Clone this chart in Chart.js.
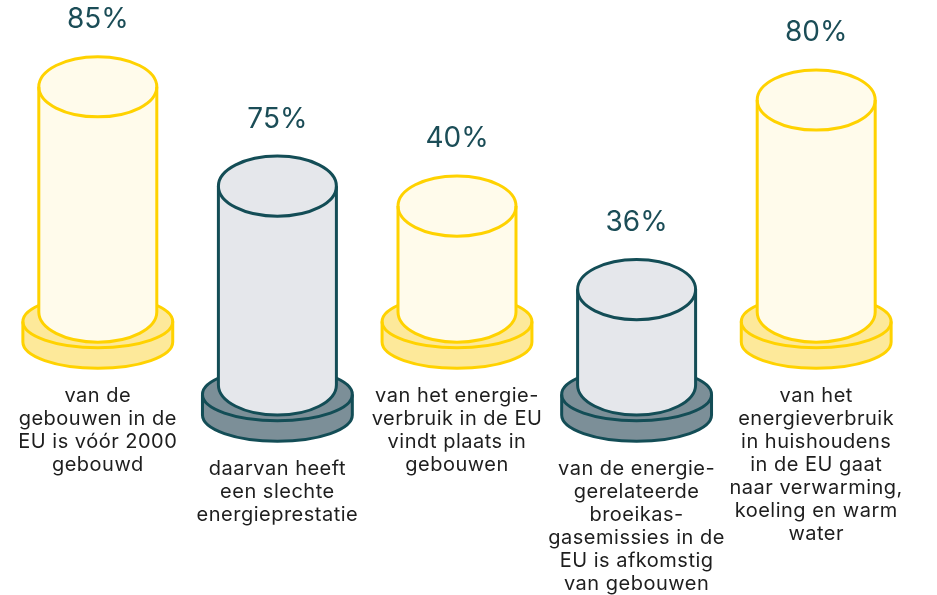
<!DOCTYPE html>
<html>
<head>
<meta charset="utf-8">
<script src="https://cdn.jsdelivr.net/npm/chart.js@4.4.1/dist/chart.umd.min.js"></script>
<style>
html, body { margin: 0; padding: 0; background: #fff; }
#wrap { width: 937px; height: 595px; position: relative; }
</style>
</head>
<body>
<div id="wrap"><canvas id="myChart"></canvas></div>
<script>
const ctx = document.getElementById('myChart').getContext('2d');

/*** Data ***/
const captions = [
    ['van de', 'gebouwen in de', 'EU is vóór 2000', 'gebouwd'],
    ['daarvan heeft', 'een slechte', 'energieprestatie'],
    ['van het energie-', 'verbruik in de EU', 'vindt plaats in', 'gebouwen'],
    ['van de energie-', 'gerelateerde', 'broeikas-', 'gasemissies in de', 'EU is afkomstig', 'van gebouwen'],
    ['van het', 'energieverbruik', 'in huishoudens', 'in de EU gaat', 'naar verwarming,', 'koeling en warm', 'water']
];
const yellowShares = [85, null, 40, null, 80];
const greyShares = [null, 75, null, 36, null];
/*************/

const looks = {
    yellow: { stroke: '#FFD200', body: '#FFFBEB', disk: '#FDE99A' },
    grey:   { stroke: '#134D56', body: '#E5E7EB', disk: '#7C8F98' }
};

function drawCylinder(c, x, top, base, width, look) {
    const rx = width / 2, ry = width * 0.255;
    const drx = width * 0.635, dry = drx * 0.35;
    const dTop = base + 9.5, dBot = base + 30;
    c.save();
    c.lineWidth = 3;
    c.lineJoin = 'round';
    c.strokeStyle = look.stroke;

    // base disk
    c.beginPath();
    c.moveTo(x - drx, dTop);
    c.lineTo(x - drx, dBot);
    c.ellipse(x, dBot, drx, dry, 0, Math.PI, 0, true);
    c.lineTo(x + drx, dTop);
    c.ellipse(x, dTop, drx, dry, 0, 0, Math.PI, true);
    c.fillStyle = look.disk;
    c.fill();
    c.beginPath();
    c.moveTo(x - drx, dTop);
    c.lineTo(x - drx, dBot);
    c.ellipse(x, dBot, drx, dry, 0, Math.PI, 0, true);
    c.lineTo(x + drx, dTop);
    c.stroke();
    c.beginPath();
    c.ellipse(x, dTop, drx, dry, 0, 0, Math.PI * 2);
    c.stroke();

    // body
    c.beginPath();
    c.moveTo(x - rx, top);
    c.lineTo(x - rx, base);
    c.ellipse(x, base, rx, ry, 0, Math.PI, 0, true);
    c.lineTo(x + rx, top);
    c.ellipse(x, top, rx, ry, 0, 0, Math.PI, true);
    c.fillStyle = look.body;
    c.fill();
    c.beginPath();
    c.moveTo(x - rx, top);
    c.lineTo(x - rx, base);
    c.ellipse(x, base, rx, ry, 0, Math.PI, 0, true);
    c.lineTo(x + rx, top);
    c.stroke();
    c.beginPath();
    c.ellipse(x, top, rx, ry, 0, 0, Math.PI * 2);
    c.stroke();
    c.restore();
}

// cylinder plugin block
const cylinders = {
    id: 'cylinders',
    afterDatasetsDraw(chart) {
        const c = chart.ctx;
        chart.data.datasets.forEach(function(ds, di) {
            const meta = chart.getDatasetMeta(di);
            meta.data.forEach(function(bar, i) {
                const value = ds.data[i];
                if (value === null || value === undefined) return;
                const { x, y, base, width } = bar.getProps(['x', 'y', 'base', 'width'], true);
                drawCylinder(c, x, y, base, width, looks[ds.look]);

                c.save();
                c.textAlign = 'center';
                c.textBaseline = 'middle';
                c.letterSpacing = '0px';
                c.fillStyle = '#1B4D57';
                c.font = '28px Inter';
                c.fillText(value + '%', x, y - 67);

                c.fillStyle = '#1E1E1E';
                c.font = '20px Inter';
                c.letterSpacing = '0.5px';
                chart.data.labels[i].forEach(function(line, li) {
                    c.fillText(line, x, base + 84 + li * 23);
                });
                c.restore();
            });
        });
    }
};

const data = {
    labels: captions,
    datasets: [{
        label: 'geel',
        look: 'yellow',
        data: yellowShares,
        yAxisID: 'y',
        grouped: false,
        backgroundColor: 'rgba(0,0,0,0)'
    }, {
        label: 'grijs',
        look: 'grey',
        data: greyShares,
        yAxisID: 'y2',
        grouped: false,
        backgroundColor: 'rgba(0,0,0,0)'
    }]
};

const config = {
    type: 'bar',
    data,
    options: {
        responsive: true,
        maintainAspectRatio: false,
        animation: false,
        layout: { padding: { top: 47, bottom: 210, left: 8, right: 31 } },
        datasets: { bar: { barPercentage: 1, categoryPercentage: 0.657 } },
        plugins: {
            legend: { display: false },
            tooltip: { enabled: false }
        },
        scales: {
            x: { display: false },
            y: { display: false, min: -27.5, max: 100 },
            y2: { display: false, min: 0, max: 127.5 }
        }
    },
    plugins: [cylinders]
};

const myChart = new Chart(ctx, config);
</script>
</body>
</html>
